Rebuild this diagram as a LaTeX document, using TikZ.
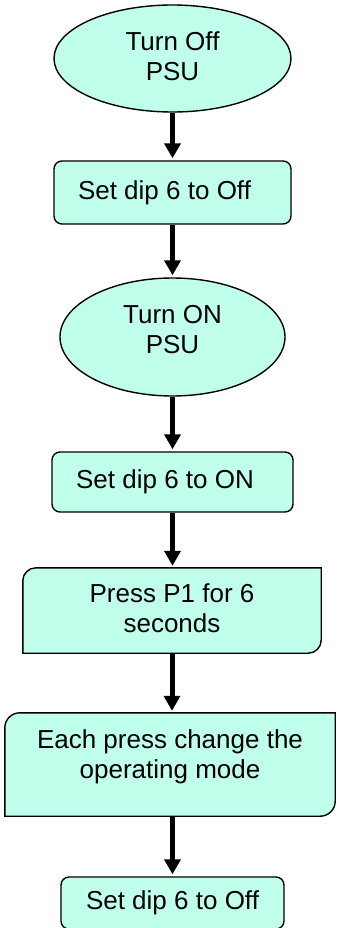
\documentclass[tikz,border=0pt]{standalone}
\usepackage{fontspec}
\setmainfont{Liberation Sans}
\usetikzlibrary{shapes.geometric,arrows.meta,backgrounds}
\definecolor{boxfill}{RGB}{192,255,236}
\newcommand{\liftby}[2]{\raisebox{#1}[\height][\depth]{#2}}
\begin{document}
\begin{tikzpicture}[x=1pt,y=-1pt,
  every node/.style={font=\fontsize{26}{30}\selectfont, inner sep=0pt},
  oval/.style={ellipse, draw=black, fill=boxfill, line width=1.4pt},
  rbox/.style={rectangle, rounded corners=8pt, draw=black, fill=boxfill, line width=1.4pt},
  plainbox/.style={rectangle, draw=none},
  cutbox/.style={draw=black, fill=boxfill, line width=1.4pt},
  flow/.style={line width=5pt, -{Triangle[width=16pt,length=15pt]}, shorten >=2pt}
]
\clip (0,0) rectangle (337,928);
\node[oval, minimum width=237pt, minimum height=107pt] (e1) at (172.5,58.5)
  {\liftby{-1pt}{\begin{tabular}{@{}c@{}}Turn Off\\PSU\end{tabular}}};
\node[rbox, minimum width=237pt, minimum height=63pt] (b1) at (172.5,192.5)
  {\hbox{Set dip 6 to Off\kern16pt}};
\node[oval, minimum width=225pt, minimum height=118pt] (e2) at (172.5,337)
  {\liftby{4.5pt}{\begin{tabular}{@{}c@{}}Turn ON\\PSU\end{tabular}}};
\node[rbox, minimum width=241pt, minimum height=60pt] (b2) at (172.5,482)
  {\hbox{Set dip 6 to ON\kern15pt}};
\node[plainbox, minimum width=298pt, minimum height=85pt] (b3) at (172,610.5)
  {\liftby{-1pt}{\begin{tabular}{@{}c@{}}Press P1 for 6\\seconds\end{tabular}}};
\node[plainbox, minimum width=330pt, minimum height=103pt] (b4) at (170,764.5)
  {\liftby{7pt}{\begin{tabular}{@{}c@{}}Each press change the\\operating mode\end{tabular}}};
\node[rbox, minimum width=223pt, minimum height=52pt] (b5) at (172.5,903)
  {Set dip 6 to Off};
\begin{scope}[on background layer]
  \draw[cutbox] (b3.south west) -- ([yshift=-13pt]b3.north west)
    arc[start angle=180, end angle=90, radius=13pt] -- (b3.north east)
    -- ([yshift=13pt]b3.south east)
    arc[start angle=0, end angle=-90, radius=13pt] -- cycle;
  \draw[cutbox] (b4.south west) -- ([yshift=-15pt]b4.north west)
    arc[start angle=180, end angle=90, radius=15pt] -- (b4.north east)
    -- ([yshift=15pt]b4.south east)
    arc[start angle=0, end angle=-90, radius=15pt] -- cycle;
\end{scope}
\draw[flow] (e1) -- (b1);
\draw[flow] (b1) -- (e2);
\draw[flow] (e2) -- (b2);
\draw[flow] (b2) -- (b2 |- b3.north);
\draw[flow] (b3) -- (b3 |- b4.north);
\draw[flow] (b5 |- b4.south) -- (b5);
\end{tikzpicture}
\end{document}
